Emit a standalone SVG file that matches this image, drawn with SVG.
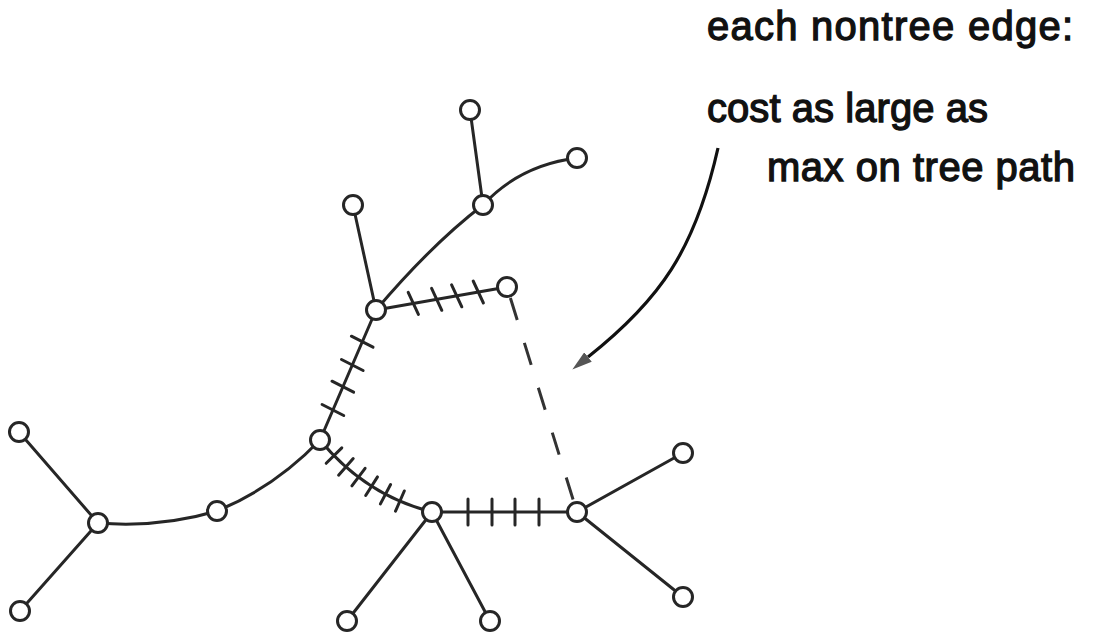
<svg xmlns="http://www.w3.org/2000/svg" width="1095" height="633" viewBox="0 0 1095 633">
<style>
.e{fill:none;stroke:#262626;stroke-width:3;stroke-linecap:round}
.t{fill:none;stroke:#262626;stroke-width:3;stroke-linecap:round}
.d{fill:none;stroke:#333;stroke-width:3;stroke-dasharray:23 24}
.n{fill:#fff;stroke:#262626;stroke-width:3}
.a{fill:none;stroke:#111;stroke-width:3.2}
.lbl{font-family:"Liberation Sans",Arial,sans-serif;font-size:40px;fill:#111;stroke:#111;stroke-width:1.3}
</style>
<defs>
<marker id="ah" viewBox="0 0 20 12" markerWidth="20" markerHeight="12" refX="0" refY="6" orient="auto" markerUnits="userSpaceOnUse">
<path d="M0,0 L20,6 L0,12 z" fill="#555"/>
</marker>
</defs>
<rect width="1095" height="633" fill="#fff"/>
<g id="connectors">
<line class="e" x1="470" y1="110" x2="483" y2="205"/>
<path class="e" d="M483,205 Q520,165 577,158"/>
<path class="e" d="M376,310 Q432,244 483,205"/>
<line class="e" x1="353" y1="205" x2="376" y2="310"/>
<line class="e" x1="376" y1="310" x2="507" y2="287"/>
<g class="t">
<line x1="408.2" y1="292.4" x2="418.4" y2="314.4"/>
<line x1="431.6" y1="288.3" x2="441.8" y2="310.3"/>
<line x1="451.6" y1="284.8" x2="461.8" y2="306.8"/>
<line x1="473.2" y1="281.0" x2="483.4" y2="303.0"/>
</g>
<line class="e" x1="376" y1="310" x2="320" y2="440"/>
<g class="t">
<line x1="351.4" y1="336.2" x2="373.0" y2="347.2"/>
<line x1="341.5" y1="359.5" x2="363.1" y2="370.5"/>
<line x1="332.0" y1="381.2" x2="353.6" y2="392.2"/>
<line x1="322.1" y1="404.5" x2="343.7" y2="415.5"/>
</g>
<path class="e" d="M320,440 Q365,495 432,512"/>
<g class="t">
<line x1="326.2" y1="463.3" x2="341.8" y2="447.9"/>
<line x1="338.6" y1="475.2" x2="353.2" y2="458.6"/>
<line x1="351.9" y1="485.9" x2="365.1" y2="468.3"/>
<line x1="365.7" y1="495.5" x2="377.5" y2="476.9"/>
<line x1="380.4" y1="503.9" x2="390.6" y2="484.5"/>
<line x1="395.5" y1="511.2" x2="404.3" y2="491.0"/>
</g>
<line class="e" x1="432" y1="512" x2="577" y2="512"/>
<g class="t">
<line x1="468" y1="499" x2="468" y2="525"/>
<line x1="492" y1="499" x2="492" y2="525"/>
<line x1="515" y1="499" x2="515" y2="525"/>
<line x1="539" y1="499" x2="539" y2="525"/>
</g>
<line class="d" x1="510.4" y1="298" x2="574" y2="502.5"/>
<path class="e" d="M320,440 Q275,487 217,511"/>
<path class="e" d="M217,511 Q160,528 98,523"/>
<line class="e" x1="19" y1="432" x2="98" y2="523"/>
<line class="e" x1="98" y1="523" x2="20" y2="611"/>
<line class="e" x1="432" y1="512" x2="347" y2="621"/>
<line class="e" x1="432" y1="512" x2="490" y2="621"/>
<line class="e" x1="577" y1="512" x2="683" y2="453"/>
<line class="e" x1="577" y1="512" x2="683" y2="597"/>
<path class="a" d="M718,148 C695,250 660,300 588,357" marker-end="url(#ah)"/>
</g>
<g id="nA"><circle class="n" cx="470" cy="110" r="9.5"/></g>
<g id="nB"><circle class="n" cx="577" cy="158" r="9.5"/></g>
<g id="nC"><circle class="n" cx="483" cy="205" r="9.5"/></g>
<g id="nD"><circle class="n" cx="353" cy="205" r="9.5"/></g>
<g id="nE"><circle class="n" cx="376" cy="310" r="9.5"/></g>
<g id="nF"><circle class="n" cx="507" cy="287" r="9.5"/></g>
<g id="nG"><circle class="n" cx="320" cy="440" r="9.5"/></g>
<g id="nH"><circle class="n" cx="19" cy="432" r="9.5"/></g>
<g id="nI"><circle class="n" cx="98" cy="523" r="9.5"/></g>
<g id="nJ"><circle class="n" cx="217" cy="511" r="9.5"/></g>
<g id="nK"><circle class="n" cx="20" cy="611" r="9.5"/></g>
<g id="nL"><circle class="n" cx="432" cy="512" r="9.5"/></g>
<g id="nM"><circle class="n" cx="577" cy="512" r="9.5"/></g>
<g id="nN"><circle class="n" cx="683" cy="453" r="9.5"/></g>
<g id="nO"><circle class="n" cx="683" cy="597" r="9.5"/></g>
<g id="nP"><circle class="n" cx="347" cy="621" r="9.5"/></g>
<g id="nQ"><circle class="n" cx="490" cy="621" r="9.5"/></g>
<g id="label">
<text class="lbl" x="707" y="40" textLength="366" lengthAdjust="spacing">each nontree edge:</text>
<text class="lbl" x="707" y="122" textLength="281" lengthAdjust="spacing">cost as large as</text>
<text class="lbl" x="767" y="181" textLength="308" lengthAdjust="spacing">max on tree path</text>
</g>
</svg>
